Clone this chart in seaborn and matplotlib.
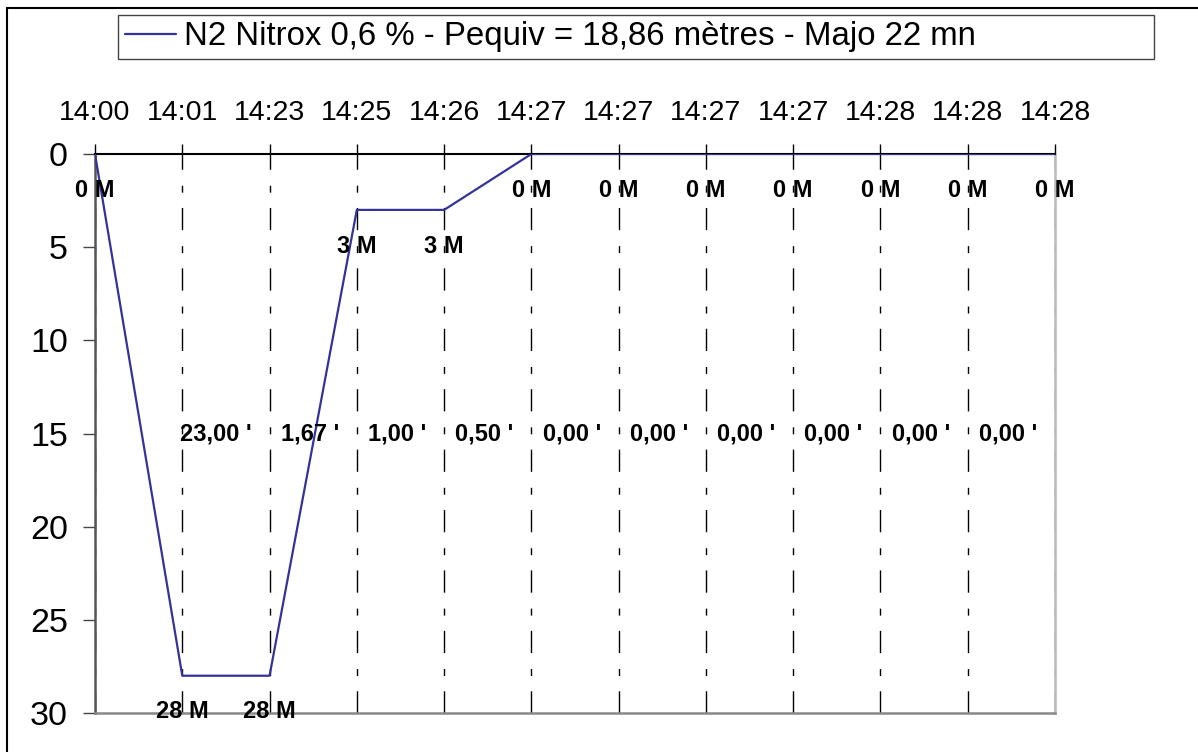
import matplotlib
matplotlib.use("Agg")
import matplotlib.pyplot as plt
from matplotlib.patches import Rectangle
from matplotlib.lines import Line2D
import seaborn as sns
import pandas as pd

# ---- data ----
times = ['14:00', '14:01', '14:23', '14:25', '14:26', '14:27',
         '14:27', '14:27', '14:27', '14:28', '14:28', '14:28']
depths = [0, 28, 28, 3, 3, 0, 0, 0, 0, 0, 0, 0]
durations = [23.00, 1.67, 1.00, 0.50, 0.00, 0.00, 0.00, 0.00, 0.00, 0.00]
series_name = "N2 Nitrox 0,6 % - Pequiv = 18,86 mètres - Majo 22 mn"
extra_label = "GPS I"
duration_level = 15

sns.set_style("white")
plt.rcParams['font.family'] = ['Liberation Sans', 'DejaVu Sans']
plt.rcParams['text.color'] = 'black'
plt.rcParams['xtick.color'] = 'black'
plt.rcParams['ytick.color'] = 'black'
plt.rcParams['xtick.labelcolor'] = 'black'
plt.rcParams['ytick.labelcolor'] = 'black'

W, H = 1198, 752
fig = plt.figure(figsize=(W / 100, H / 100), dpi=100)
ax = fig.add_axes([95 / W, 1 - 713 / H, (1055 - 95) / W, (713 - 154) / H])

df = pd.DataFrame({"idx": range(len(depths)), "depth": depths})
line_color = '#333399'
sns.lineplot(data=df, x="idx", y="depth", ax=ax, color=line_color,
             linewidth=1.6, zorder=5, legend=False)

ax.set_xlim(0, len(depths) - 1)
ax.set_ylim(30, 0)
ax.set_xlabel("")
ax.set_ylabel("")

ax.set_xticks(range(len(times)))
ax.set_xticklabels(times)
ax.set_yticks([0, 5, 10, 15, 20, 25, 30])
ax.xaxis.tick_top()
ax.tick_params(axis='x', which='major', direction='out', length=7, width=1,
               color='black', labelcolor='black', labelsize=20.5, pad=13,
               top=True, bottom=False)
ax.tick_params(axis='y', which='major', direction='out', length=8.5, width=1,
               color='#444444', labelcolor='black', labelsize=24.5, pad=11,
               left=True)

ax.xaxis.grid(True, color='black', linewidth=1,
              linestyle=(0, (16, 11, 5, 11.5)))
ax.yaxis.grid(False)

ax.spines['top'].set_color('black')
ax.spines['top'].set_linewidth(1.5)
ax.spines['top'].set_zorder(4)
ax.spines['left'].set_color('#555555')
ax.spines['left'].set_linewidth(1.8)
ax.spines['bottom'].set_color('#888888')
ax.spines['bottom'].set_linewidth(1.8)
ax.spines['right'].set_color('#bbbbbb')
ax.spines['right'].set_linewidth(1.8)

# depth labels
for i, d in enumerate(depths):
    ax.annotate(f"{d} M", xy=(i, d), xytext=(0, -26), textcoords='offset points',
                ha='center', va='center', fontsize=17, fontweight='bold',
                zorder=6, annotation_clip=False)

# duration labels
for j, v in enumerate(durations):
    txt = f"{v:.2f}".replace('.', ',') + " '"
    ax.annotate(txt, xy=(j + 1, duration_level), xytext=(50, 0),
                textcoords='offset points', ha='right', va='center',
                fontsize=17, fontweight='bold', zorder=6)

# legend
fs_leg = 23.8
handle = Line2D([0], [0], color=line_color, linewidth=1.6)
leg = fig.legend([handle], [series_name], loc='lower left', mode='expand',
                 bbox_to_anchor=(118 / W, 1 - 59 / H, (1154 - 118) / W, 50 / H),
                 bbox_transform=fig.transFigure, fontsize=fs_leg,
                 handlelength=1.55, handletextpad=0.25, borderpad=0.2,
                 borderaxespad=0, fancybox=False, framealpha=1,
                 edgecolor='#444444')
leg.get_frame().set_linewidth(1)
leg._legend_box.align = "left"
fig.text(1143 / W, 1 - 34 / H, extra_label, ha='right', va='center',
         fontsize=fs_leg, color='black')

# outer chart border
fig.patches.append(Rectangle((7 / W, -0.2), 2, 1 - 8 / H + 0.2,
                             transform=fig.transFigure, fill=False,
                             edgecolor='black', linewidth=1.5))

fig.savefig("out.png", dpi=100)
